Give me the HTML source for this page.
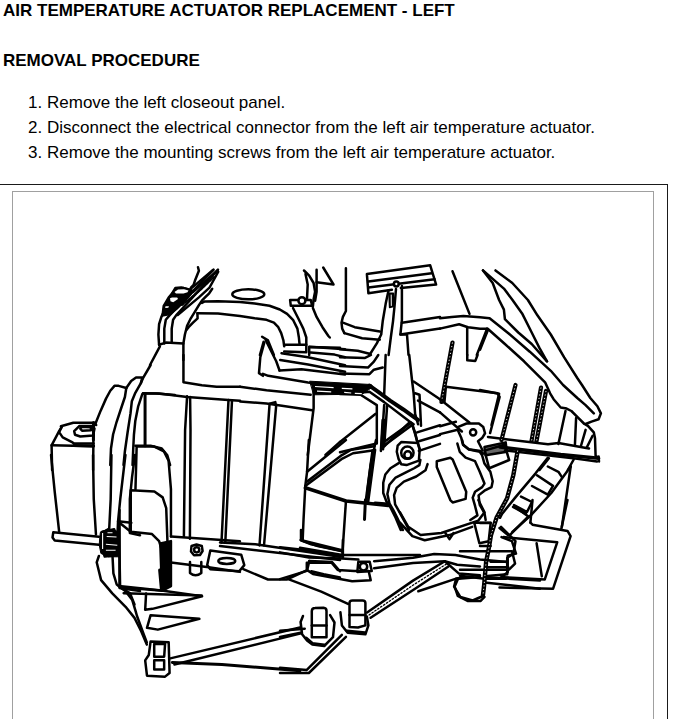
<!DOCTYPE html>
<html><head><meta charset="utf-8">
<style>
html,body{margin:0;padding:0;background:#fff;width:679px;height:719px;overflow:hidden;}
body{font-family:"Liberation Sans",sans-serif;color:#000;position:relative;}
.t{position:absolute;white-space:nowrap;}
.h{font-weight:bold;font-size:17px;}
.li{font-size:17px;}
#outer{position:absolute;left:-2px;top:184px;width:669px;height:600px;border-top:1px solid #1a1a1a;border-right:1px solid #1a1a1a;}
#inner{position:absolute;left:12px;top:191px;width:640px;height:600px;border:1px solid #a0a0a0;}
svg{position:absolute;left:0;top:0;} svg *{vector-effect:non-scaling-stroke;}
</style></head><body>
<div class="t h" style="left:3px;top:1px;">AIR TEMPERATURE ACTUATOR REPLACEMENT - LEFT</div>
<div class="t h" style="left:3px;top:51px;">REMOVAL PROCEDURE</div>
<div class="t li" style="left:28px;top:93px;">1.</div><div class="t li" style="left:47px;top:93px;">Remove the left closeout panel.</div>
<div class="t li" style="left:28px;top:118px;">2.</div><div class="t li" style="left:47px;top:118px;">Disconnect the electrical connector from the left air temperature actuator.</div>
<div class="t li" style="left:28px;top:143px;">3.</div><div class="t li" style="left:47px;top:143px;">Remove the mounting screws from the left air temperature actuator.</div>
<div id="outer"></div>
<div id="inner"></div>
<svg width="679" height="719" viewBox="0 0 679 719" fill="none" stroke="#000" stroke-width="2.5" stroke-linejoin="round" stroke-linecap="round">
<!-- row1: 140-640 x 255-355 -->
<!-- left bracket cluster -->
<path d="M159.1,344.8 L158.4,334.5 L159.1,324.2 L161.4,316.9 L163.6,312.4 L165,306.5 L169.5,299.2 L173.1,291.8 L175.3,288.1 L181.2,287.4 L187.1,288.9 L190.8,290.3"/>
<path d="M164.3,343.4 L164.3,328.6 L165.8,319.8 L169.5,315.4 L213.6,269.7"/>
<path d="M171.7,342.6 L171.7,328.6 L173.1,319.8 L176.1,315.4 L218,269.7"/>
<path d="M198,267.3 L198.9,270.8 L195.3,279.7 L193.6,285 L190.9,287.6"/>
<path d="M162,316 L163.2,306 L168.5,297 L173.3,291.2 L177.7,288.1 L183.9,287.6 L190,289.4 L194,291 L186,300 L177,309 L170,314.5 Z" fill="#000" stroke-width="1.5"/>
<path d="M174.5,292 L178,289.5 L184,289.2 L188.5,290.5 L187.5,292.3 L183.5,293.5 L176,293.6 Z" fill="#fff" stroke="none"/>
<path d="M170,298.2 L172,297.6 L177.2,297.6 L178,299 L173.2,302.3 L170.5,301.2 Z" fill="#fff" stroke="none"/>
<path d="M165.5,306.3 L169,306.2 L168.3,307.8 L165.2,308 Z" fill="#fff" stroke="none"/>
<path d="M190,289.4 L213,270" stroke-width="2.4"/>
<path d="M193,292 L217.5,270.5" stroke-width="2.4"/>
<path d="M177.7,315 L198.9,297.3 L209.5,287.6 L218.3,271.7" stroke-width="2.4"/>
<path d="M182,305 L201,289.5 L214,277" stroke-width="2" stroke-dasharray="2.5 1.5"/>
<path d="M173,311 L181,304.5" stroke-width="2" stroke-dasharray="1.5 1.5"/>
<path d="M183.4,360 L183.4,343.4 L184.9,334.5 L187.1,325.7 L190.8,318.3 L194.5,312.4 L198.9,305.1 L201.9,300.7 L204.8,297.7 L209.2,293.3 L212.2,288.9"/>
<path d="M197.4,313.2 L197.6,318.3 L193,322.7 L188.6,327.2 L186.4,330.1"/>
<path d="M159.1,344.8 L165.8,342.6 L183.4,343.4"/>
<path d="M159.9,346.3 L150,365"/>
<!-- duct -->
<path d="M201.9,302.9 L204.8,301.4 L218,301.3 L240,302.1 L254.7,303.6 L269.5,305.8 L279.8,309.5 L287.1,313.9 L293,319.8 L297.4,328.6 L298.9,337.5 L299.6,344.8"/>
<path d="M197.4,313.2 L218,313.4 L240,316.1 L254.7,318.3 L266.5,319.8 L273.9,322.7 L278.3,327.2 L281.2,333.1 L283.4,340.4 L284.2,346.3"/>
<ellipse cx="248.3" cy="294.3" rx="16" ry="5"/>
<!-- box under duct -->
<path d="M284.2,344.8 L306.3,344.8 M284.2,351.5 L306.3,352.2 M306.3,344.8 L306.3,352.2"/>
<path d="M309.2,347 L340,347.8 M309.2,347 L309.2,355"/>
<!-- post -->
<path d="M293,308 L298.2,318.3 L303.3,328.6 L306.3,337.5 L306.3,344.8"/>
<path d="M290.1,299.9 L310.7,299.9 L312.2,305.8 L290.8,305.8 Z"/>
<circle cx="301.9" cy="300.7" r="3.5" fill="#fff"/>
<path d="M304,270.5 L309.2,275.6 L313.6,283 L315.1,291.8 L313.6,299.2 L312.9,306.5"/>
<path d="M305.5,274 L307.7,284.5 L307,299"/>
<path d="M316.6,269.7 L316.6,291.8 L315.1,300.7"/>
<path d="M316.6,282.2 L333.5,284.5 L323.2,267.5"/>
<path d="M312.9,308 L316.6,316.9 L322.5,327.2 L328.4,336 L329.8,337.5"/>
<path d="M262.1,336.7 L268,340.4 L273.9,355 M263.6,341.9 L259.9,355"/>
<!-- T stem area -->
<path d="M345.9,268.3 L345.9,311 L342.9,316.9 L341.5,322.7 L342.2,328.6 L344.4,333.1"/>
<path d="M342.9,322.7 L354.7,327.2 L379.8,331.6"/>
<path d="M344.4,333.1 L362.1,338.2 L379.8,339.7"/>
<path d="M340,349.3 L357.7,350.7 L369.5,353.7"/>
<path d="M366.9,274.1 L430.2,265.3 L436.1,284.5 L400.8,288 M366.9,274.1 L368.4,293.3 L391.9,289.8"/>
<path d="M368.4,281.5 L431.7,273.3 M368.4,287.4 L434.6,279.2"/>
<circle cx="396.3" cy="284" r="2.4" fill="#fff"/>
<path d="M388.6,290.3 L385.7,303.6 L382.7,321.3 L381.2,334.5 L376.8,343.4 L369.5,355"/>
<path d="M396,288.9 L394.5,306.5 L393,321.3 L390.8,337.5 L388.6,355"/>
<path d="M389,293.3 L393.4,293.3 L393.4,306.5 L389.6,307.4 Z" fill="#000" stroke-width="1.5"/><path d="M391.2,295 L391.3,305.5" stroke="#fff" stroke-width="1"/>
<path d="M401.9,286 L401.9,319.8 L400.4,334.5 L407,334.5 L408.5,355"/>
<path d="M401.9,322.7 L440,316.9 M400.4,334.5 L440,328.6"/>
<!-- right area -->
<path d="M452.5,271.2 L469.5,313.9"/>
<path d="M467.2,327.2 L467.2,355"/>
<path d="M487.1,328.6 L476.8,355"/>

<!-- row2: y 355-455 -->
<!-- left cylinder, tile (40,355) scale 0.14728 -->
<!-- cylinder -->
<path d="M52.1,470 L51.6,445.3 L59.1,431.2 L61.8,426.8 L60.9,426.3 L73.3,422.8 L94.5,422.8 L96.2,425"/>
<path d="M51.6,445.3 L73,445.8 L93.6,446.2"/>
<path d="M74,445.6 L93.6,446" stroke-width="3"/>
<path d="M93.6,422.8 L93.1,470"/>
<path d="M93.6,422.8 L93.4,440" stroke-width="3"/>
<path d="M61.8,426.8 L59.1,432.1 L62.7,437.4 L71.5,441.8 L74.2,443.6 L93.6,443.6"/>
<path d="M79.5,425.9 L92.7,425.9 L94.5,428.6 L93.1,435.6 L80.3,436.5 L75,434.7 L74.2,431.2 Z"/>
<path d="M81.2,426.8 L90.9,427.2 L90.9,430.3 L82.1,430.8 L80.3,428.6 Z"/>
<!-- towers, tile (95,365) scale 1/7.19=0.13908 -->
<g transform="translate(95 365) scale(0.13908)">
<path d="M0,430 L40,330 L80,240 L110,185 L140,150 L170,150 L225,165"/>
<path d="M225,165 L215,230 L185,320 L155,410 L130,500 L115,600 L110,719"/>
<path d="M225,165 L260,115 L295,90 L340,90 L330,130"/>
<path d="M400,0 L345,95 L330,130 L290,200 L265,260 L255,350 L235,480 L215,620 L205,719"/>
<path d="M340,210 L310,300 L290,400 L280,500 L275,600 L270,719"/>
<path d="M360,205 L360,580" stroke-width="3"/>
<path d="M345,205 L440,205 L575,215"/>
<path d="M290,580 L400,580 L480,600 L520,650 L540,719"/>
</g>
<!-- tile (140,355) -->
<g transform="translate(140 355) scale(0.14728)">
<path d="M295,0 L295,185 L420,205 L520,215 L679,215"/>
<path d="M20,260 L130,262 L320,285 L600,305 L679,310"/>
</g>
<!-- tile (240,355) -->
<g transform="translate(240 355) scale(0.14728)">
<path d="M0,215 L180,240 L480,270"/>
<path d="M500,200 L500,360 L460,679"/>
<path d="M0,315 L180,330 L250,340 L490,375"/>
<path d="M580,679 L679,590"/>
</g>
<!-- band lines, tile (255,340) scale 1/7.54=0.13263 -->
<g transform="translate(255 340) scale(0.13263)">
<path d="M70,20 L40,130 L30,250 L60,270"/>
<path d="M80,0 L130,100 L160,160 L185,230"/>
<path d="M410,50 L679,70"/>
<path d="M420,95 L600,110 L679,130"/>
<path d="M200,100 L400,130 L679,190"/>
<path d="M190,150 L400,185 L679,240"/>
<path d="M185,230 L350,220 L679,260"/>
<path d="M60,255 L100,270 L400,320 L600,345 L679,350"/>
</g>
<!-- tile (340,355) -->
<g transform="translate(340 355) scale(0.14728)">
<path d="M0,15 L170,20 L210,0"/>
<path d="M0,75 L190,85 L230,45 L260,0"/>
<path d="M0,125 L200,130 L230,100 L290,85"/>
<path d="M310,0 L300,270"/>
<path d="M200,208 L260,250 L340,310 L430,370 L500,420 L530,440" stroke-width="4"/>
<path d="M150,255 L200,250 L300,320 L470,450 L500,470"/>
<path d="M0,265 L140,270 L250,340 L250,600"/>
<path d="M300,340 L280,640 M320,345 L300,620"/>
<path d="M0,590 L240,400"/>
<path d="M300,620 L470,460"/>
<path d="M470,0 L490,180 L500,260 L510,400 L530,470"/>
<path d="M510,260 L540,270 L550,480"/>
<path d="M500,180 L679,300"/>
<path d="M530,310 L679,390"/>
<path d="M490,470 L540,640"/>
<path d="M0,660 L250,600"/>
</g>
<!-- tile (440,355) -->
<g transform="translate(440 355) scale(0.14728)">
<path d="M185,0 L185,35 L240,40 L255,0"/>
<path d="M30,320 L40,215 L390,260 L405,285 L340,530"/>
</g>

<!-- thick band -->
<path d="M310,381.2 L371.2,384.5 L373,387 L368,390 L362,394.2 L314,394.8 Z" fill="#000" stroke-width="1"/>
<path d="M315,386.5 L333.6,387.7 M317,391.2 L331.2,391.8 M341.8,388.3 L352.4,388.8 M344.2,392.4 L351.2,393 M354.8,393.3 L361.8,393.6" stroke="#fff" stroke-width="1.2" stroke-linecap="butt"/>

<!-- actuator -->
<g transform="translate(380 420) scale(0.08834)">
<path d="M200,290 L240,250 L430,260 L450,330 L440,460 L300,510 L240,500 L210,440 L190,360 Z"/>
<circle cx="310" cy="370" r="70"/>
<circle cx="315" cy="395" r="40"/>
<path d="M30,260 L350,30 M40,295 L360,60"/>
<path d="M360,40 L400,150 L420,240"/>
<path d="M420,140 L679,60 M440,240 L679,170 M440,350 L679,270"/>
<path d="M30,0 L10,350 M55,0 L35,330"/>
</g>
<g transform="translate(375 460) scale(0.10309)">
<path d="M230,30 L150,80 L100,140 L80,220 L80,320 L110,400 L150,460 L200,560 L250,679"/>
<path d="M440,0 L430,50 L380,80 L300,120 L200,170 L140,240 L120,330 L140,420 L180,490 L220,570 L270,679"/>
<path d="M510,40 L490,100 L400,160 L280,210 L210,270 L185,340 L195,430 L240,510 L300,620 L330,679"/>
<path d="M0,420 L130,430" stroke-width="3.5"/>
</g>
<g transform="translate(435 440) scale(0.11779)">
<path d="M15,180 L130,150 L150,165 L265,440 L260,500 L150,530 L130,510 L15,230 Z"/>
<path d="M190,30 L210,100 L260,150 L340,180 L380,270 L420,370 L400,400 L340,440 L320,490 L340,560 L360,640 L300,679"/>
<path d="M230,0 L240,40 L290,80 L380,100 L400,130 L420,200 L470,270 L490,350 L480,400 L420,430 L370,470 L380,550 L420,620 L430,679"/>
<path d="M420,90 L590,40 L630,170 L460,240 Z"/>
<path d="M420,60 L600,20 L610,100 L430,130 Z" fill="#000" fill-opacity="0.6"/>
</g>
<g transform="translate(440 420) scale(0.08834)">
<path d="M200,80 L300,40 L440,40 L490,80 L510,150 L480,200 L430,240 L460,300 L480,340"/>
<circle cx="375" cy="140" r="35"/>
<path d="M0,160 L200,110 L240,200 L260,280 L320,330 L460,350 L490,380"/>
<path d="M0,70 L180,20"/>
</g>

<!-- row3 -->
<g transform="translate(40 455) scale(0.14728)">
<path d="M75,0 L100,250 L130,520"/>
<path d="M360,0 L365,300 L380,540"/>
<path d="M485,0 L480,300 L470,500 L420,530"/>
<path d="M580,0 L545,300 L530,450 L520,679"/>
<path d="M645,0 L625,150 L610,300 L610,530 L679,545"/>
<path d="M530,450 L620,460"/>
<path d="M400,555 L90,525 L85,560 L100,580 L400,610"/>
</g>
<g transform="translate(40 535) scale(0.14728)">
<path d="M540,-170 L540,360 L679,380" stroke-width="2.5"/>
</g>
<!-- clip & columns tile (100,430) scale 0.23646 -->
<g transform="translate(100 430) scale(0.23646)">
<path d="M150,250 L155,70 L230,70 L270,90 L290,130 L300,250 L300,450"/>
<path d="M130,430 L130,255 L230,260 L265,285 L280,330 L290,600"/>
<path d="M85,660 L80,390 M80,390 L130,430 L220,440 L250,470 L265,520 L262,680"/>
<path d="M80,660 L270,680"/>
<path d="M255,480 L300,470 L300,660 L262,680 Z" fill="#000"/>
<path d="M300,450 L592,470 M300,560 L460,580 L592,600"/>
<path d="M100,690 L430,700"/>
<path d="M10,430 L60,420 L75,470 L70,530 L20,535 L5,490 Z"/>
</g>
<g transform="translate(220 440) scale(0.17674)">
<path d="M0,580 L200,590 L679,660"/>
<path d="M0,600 L679,679"/>
</g>
<g transform="translate(300 440) scale(0.17674)">
<path d="M50,0 L40,180 L30,260 L20,450 L15,570"/>
<path d="M40,180 L260,0"/>
<path d="M40,235 L230,90 L290,55 L420,35 M30,260 L240,105 L300,75 L410,60"/>
<path d="M30,270 L260,345 L500,370" stroke-width="3.5"/>
<path d="M370,340 L365,450" stroke-width="3"/>
<path d="M410,60 L370,360 M425,55 L385,355"/>
<path d="M430,0 L400,140 L380,300"/>
<path d="M260,345 L240,640"/>
<path d="M15,570 L100,600 L240,630"/>
<path d="M0,610 L240,650 L679,650"/>
</g>
<!-- right middle tile (460,380) scale 1/3.269=0.3059 -->
<g transform="translate(460 380) scale(0.3059)">
<path d="M0,560 L170,560 L180,600 L160,620 L0,620"/>
<path d="M0,640 L80,650 L150,650"/>
</g>

<!-- bolt left -->
<path d="M100.9,531.7 L106.7,530 L116.7,530.9 L119.2,539.2 L119.2,556.8 L108.4,556.8 L100.9,553.4 L99.2,545 L100,535 Z" fill="#000" stroke-width="1"/>
<path d="M107.5,532.8 L112.5,532.8 M106.7,536.5 L116.5,537 M105.9,544.2 L117.3,545.2 M105.9,550.3 L115.6,550.3 M102.6,533 L102.6,549" stroke="#fff" stroke-width="1.1" stroke-linecap="butt"/>

<!-- bottom rows -->
<g transform="translate(100 570) scale(0.18073)">
<path d="M110,95 L350,115 L565,145 L290,215 L250,220 L255,130"/>
<path d="M280,250 L550,270 L320,330 L260,320 Z"/>
<path d="M280,395 L380,400 L385,570 L360,590 L260,585 L250,500 L270,470 Z"/>
<path d="M300,410 L360,410 L355,480 L300,480 Z M300,500 L355,500 L355,550 L300,550 Z"/>
<path d="M330,0 L340,110" stroke-width="3"/>
</g>
<g transform="translate(160 580) scale(0.20619)">
<path d="M50,380 L679,230 M70,410 L679,260"/>
<path d="M60,400 L300,410 L679,440" stroke-width="3"/>
</g>
<g transform="translate(280 540) scale(0.20619)">
<path d="M0,35 L130,50 L300,80"/>
<path d="M0,60 L140,85 L300,90 L380,95"/>
<path d="M100,0 L300,50 M305,0 L305,85"/>
<path d="M130,110 L250,110 L280,145 L360,150 L430,150 L440,195 L350,200 L160,165 L130,145 Z"/>
<path d="M380,105 L435,105 L445,150 L375,155 Z"/>
<circle cx="405" cy="130" r="18"/>
<path d="M0,190 L130,150"/>
<path d="M40,190 L200,250 L330,310"/>
<path d="M300,460 L130,630 L0,620 M320,470 L140,645 L0,645"/>
<path d="M0,440 L120,430 M0,470 L100,450"/>
</g>
<g transform="translate(400 500) scale(0.20619)">
<path d="M0,60 L40,130 L100,170 L200,160 L380,100 L410,60 L380,0"/>
<path d="M0,110 L60,175 L120,195 L240,170 L350,130"/>
<path d="M220,160 L240,190 L260,160"/>
<path d="M410,375 L679,390 M410,400 L679,430"/>
<path d="M280,385 L265,420 L280,465 L330,490 L390,490 L410,470"/>
<path d="M360,110 L440,110 L430,200 L385,210 Z"/>
<path d="M490,130 L560,200 L550,260 L520,280 L520,360 L410,370"/>
</g>
<g transform="translate(480 500) scale(0.17674)">
<path d="M0,130 L60,130 M0,260 L60,260 M60,350 L150,350 M40,380 L160,380"/>
</g>

<!-- right upper region -->
<path d="M440,318.3 L451.8,316.9 L463.4,316 L480,317.2 L489.6,318.2 L508.7,333.5 L529.8,351.7 L550.8,370.8 L563.1,385 L577.3,398 L585.6,405.1 L593.8,413.4" />
<path d="M440,328.6 L459.1,324.2 L468,327.2 L480,328.7 L487.7,328.7 L504.9,344 L524,361.3 L545.1,382.3 L550.1,393.3 L553.6,399.2 L560.7,407.5 L566.6,408.6 L571.4,411 L577.3,416.9 L584.4,424 L587.9,425.8"/>
<path d="M483,270.4 L492.7,283 L499.1,300 L503.9,309.6 L504.9,319.1 L518.3,332.5 L531.7,344 L547,361.3"/>
<path d="M483,270.4 L503.9,288.6 L512.5,300 L522.1,313.4 L531.7,332.5 L539.4,347.9 L547,361.3"/>
<path d="M495.5,270.4 L512.3,283 L527.9,300 L537.4,315.3 L550.8,334.5 L564.2,357.4 L577.6,378.5 L582,385 L590.3,398 L597.4,406.3 L600.9,413.4 L598.6,419.3 L591.5,421.6 L585.6,424"/>
<path d="M587.9,425.8 L593.8,432.3 L595,438.2 L595.6,455.9 L598.6,457.7"/>
<path d="M565.5,411 L558.4,444.1 M576.1,418.1 L574.9,445.3 M585.6,429.9 L580.8,446.5 M592.6,435.8 L586.7,447.6"/>
<path d="M480,390 L499.1,393.8 L491.5,425"/>
<path d="M487.7,330.6 L480,349.8"/>
<path d="M488,437 L548,444.2 L558.4,443 L589,448.5"/>
<path d="M500,447 L560.7,454.5 L598.6,458.3" stroke-width="3.5"/>
<path d="M505,450.5 L577.3,458.8 L597,461.5"/>
<path d="M598.6,456.5 L599,461.5" stroke-width="2.5"/>
<path d="M548.9,458.3 L539.5,470 M573.7,459.5 L567.8,470"/>
<!-- hatched rods -->
<path d="M452.5,342.5 L441.5,402 M515.5,385 L501.5,440 M541,387.5 L531.5,441 M546,391 L536.5,441" stroke-width="4.2"/>
<path d="M452.5,342.5 L441.5,402 M515.5,385 L501.5,440 M541,387.5 L531.5,441 M546,391 L536.5,441" stroke="#fff" stroke-width="0.9" stroke-dasharray="1.2 2.3" stroke-linecap="butt"/>
<path d="M440,399.2 L469.4,422.5 M440,412.4 L461.9,431.5"/>

<!-- lower right plug + box region -->
<path d="M517.7,450.6 L513.3,475.3 L507.1,498.3 L496.5,517.8 L491,535 L488.5,550 L486.1,561.9 L484,586.6 L483,594.8" stroke-width="4.4"/>
<path d="M517.7,450.6 L513.3,475.3 L507.1,498.3 L496.5,517.8 L491,535 L488.5,550 L486.1,561.9 L484,586.6 L483,594.8" stroke="#fff" stroke-width="0.9" stroke-dasharray="1.2 2.3" stroke-linecap="butt"/>
<path d="M483,596 L472.7,600.5 L460.3,597 L454.1,586.6 L456.2,578.4 L472.7,576.3"/>
<path d="M547.8,457.7 L535.4,473.6 L516,496.6 L502,514 L500,517.8"/>
<path d="M570.7,466.5 L551.3,493 L531.9,514.2 L512.4,531.9"/>
<path d="M537,475.3 L553,485.9 L547.8,494.7 L532,486 M521,496.6 L532,502 L527,512 L514,505 M513,507 L526,514"/>
<path d="M547.8,466.5 L558.4,471.8 L561.9,477.1"/>
<path d="M570.7,466.5 L561.9,526.6"/>
<path d="M530.4,522.7 L532.5,524.7 L567.5,530.9 L570.6,536.1 L553.1,588.7 L499.5,587.6"/>
<path d="M503.6,537.1 L557.2,542.3 L544.8,579.4 L503.6,577.3"/>
<path d="M536.6,543.3 L541.8,576.3"/>
<path d="M567.5,500 L561.3,528.9 M532.5,500 L530.4,522.7 M513.9,506.2 L528.4,516.5 L509.8,535.1"/>
<path d="M501.5,537.1 L511.9,541.2 L516,553.6 L507.7,555.7 L507.7,572.2 L499.5,578.4"/>
<path d="M499.5,528 L508.3,535.3"/>

<!-- bottom plate -->
<path d="M210.3,550.6 L241.2,554.7 L244.3,565.1 L239.2,571.2 L210.3,569.2 L207.2,565.1 Z"/>
<ellipse cx="226.8" cy="560.9" rx="8.5" ry="3"/>
<path d="M243.3,569.2 L268,579.5 L286.6,579.5 L307.2,570.2 L309.3,560.9"/>
<path d="M309.3,560.9 L332,562 L340,571.2 M311.3,571.2 L323.7,574.3 L340,577.4"/>
<path d="M301,530 L301,540.3 L311.3,544.4 L340,550.6"/>

<!-- bottom bolts -->
<path d="M303,616 L300.6,622 L302.1,634.3 L307,640.5 L312.4,644.6 L324.2,646 L333,637.2 L334.5,622.5 L330.1,615.1"/>
<path d="M306,638 L312.4,643.5 L324.2,645" stroke-width="3"/>
<path d="M311.8,637.2 L311.8,611 Q312,608 315,608 L323.5,607.8 Q326.5,608 326.5,611 L326.5,637.2 Z" fill="#fff"/>
<path d="M311.8,625.4 L326.5,625.4"/>
<path d="M340.4,612.2 L341.9,625.4 L347.7,632.8 L365.4,634.3 L368.4,625.4 L366.9,616.6"/>
<path d="M347,631 L365,632.8" stroke-width="3"/>
<path d="M349.5,627 L349.5,603 Q349.5,600.4 352.5,600.4 L362.5,600.4 Q365.4,600.4 365.4,603 L365.4,625.4 L358,627.5 Z" fill="#fff"/>
<path d="M349.5,615.1 L365.4,615.1"/>

<!-- lower center bar -->
<path d="M374.1,561.2 L413,557.7 L434.2,554.1 L455.4,555 L480,559.4 L507.2,561.9"/>
<path d="M374.1,568.3 L413,563 L444.8,561.2 L457.2,564.7 L480,566.5"/>
<path d="M367.1,612.5 L413,580.6 L444.8,561.2"/>
<path d="M370.6,617.8 L416.6,587.7 L448.4,566.5"/>
<path d="M369,615 L414.8,584 L446.5,564" stroke-width="1.3" stroke-dasharray="1.5 2"/>
<path d="M418.3,591.3 L455.4,578.9 L480,577.1"/>
<path d="M444.8,561.2 L459,573.6 L480,575.3"/>

<!-- ribs -->
<path d="M187.1,396.2 L185.1,430 L183.9,536.4 M190.1,397 L190.5,430 L189.9,538.8"/>
<path d="M228.5,399.9 L221.5,542.5 M232,400.2 L225.3,542.5"/>
<path d="M269.5,403.6 L275.3,402.1 L276.1,406.5 L264,545.5 M269.5,405.1 L259.5,545.5"/>

<!-- small bolt near clip -->
<path d="M191.5,546 L196.5,544.5 L201.8,546 L202.6,551 L200,555 L194,555.2 L191,551.5 Z"/>
<circle cx="196.7" cy="549.8" r="2.6"/>
<path d="M190,562 L190,573 Q195.5,577.5 201.3,573 L201.3,562"/>

<!-- lower-left outline -->
<path d="M98.9,556 L96.7,562.3 L101.1,580.1 L112.3,593.4 L125.6,606.8 L134.5,617.9 L141.2,631.3 L146.8,644.6"/>
<path d="M112.5,556 L113.4,573.4 L116.7,584.5 L125.6,591.2 L132.3,600.1 L135.6,611.2 L137,616 L143.4,633.5 L146.8,642.4"/>
<path d="M121.2,587.9 L130.1,593.4 L134.5,604.5"/>

</svg>
</body></html>
